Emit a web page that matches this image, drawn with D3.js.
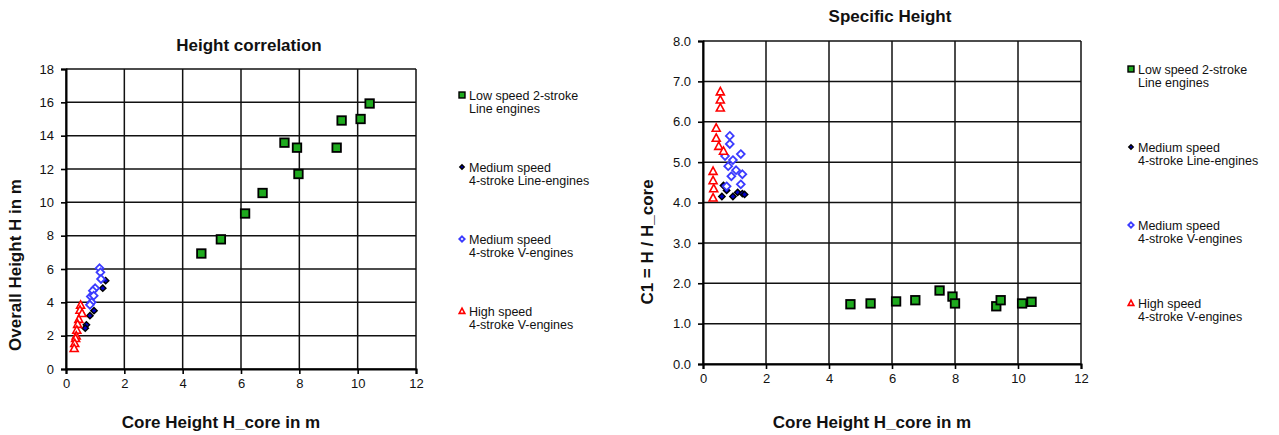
<!DOCTYPE html>
<html>
<head>
<meta charset="utf-8">
<script src="https://cdn.jsdelivr.net/npm/d3@7"></script>
<style>
  body { margin: 0; background: #fff; }
  svg { font-family: "Liberation Sans", Arial, sans-serif; }
</style>
</head>
<body>
<svg id="chart" width="1279" height="435"></svg>
<script>
// series names (legend text, two lines each)
var seriesNames = [
	["Low speed 2-stroke", "Line engines"],
	["Medium speed", "4-stroke Line-engines"],
	["Medium speed", "4-stroke V-engines"],
	["High speed", "4-stroke V-engines"]
];

// Height correlation: core height vs overall height
var lowCore   = [4.64, 5.31, 6.14, 6.74, 7.49, 7.92, 7.97, 9.28, 9.45, 10.10, 10.41];
var lowH      = [6.93, 7.78, 9.33, 10.56, 13.58, 13.28, 11.70, 13.28, 14.91, 15.00, 15.93];
var medLineCore = [1.36, 1.26, 0.96, 0.82, 0.70, 0.66];
var medLineH    = [5.30, 4.85, 3.50, 3.20, 2.65, 2.45];
var medVCore  = [1.15, 1.18, 1.20, 1.00, 0.92, 0.85, 0.95, 0.88, 0.82];
var medVH     = [6.05, 5.80, 5.40, 4.85, 4.70, 4.35, 4.40, 4.00, 3.85];
var highCore  = [0.50, 0.48, 0.55, 0.44, 0.40, 0.37, 0.35, 0.33, 0.30, 0.28];
var highH     = [3.85, 3.55, 3.35, 3.00, 2.70, 2.35, 2.00, 1.85, 1.55, 1.25];

// Specific height: core height vs C1
var lowCore2  = [4.68, 5.32, 6.13, 6.74, 7.51, 7.92, 8.00, 9.31, 9.45, 10.13, 10.43];
var lowC1     = [1.48, 1.50, 1.55, 1.58, 1.82, 1.67, 1.50, 1.43, 1.58, 1.50, 1.54];
var medLineCore2 = [0.65, 0.60, 0.75, 0.95, 1.10, 1.25, 1.32];
var medLineC1    = [4.42, 4.15, 4.30, 4.15, 4.25, 4.22, 4.20];
var medVCore2 = [0.85, 0.85, 0.70, 0.95, 1.20, 0.80, 1.05, 0.90, 1.25, 1.20, 0.75];
var medVC1    = [5.65, 5.45, 5.15, 5.05, 5.20, 4.90, 4.80, 4.65, 4.70, 4.45, 4.40];
var highCore2 = [0.55, 0.55, 0.55, 0.42, 0.42, 0.50, 0.65, 0.32, 0.32, 0.34, 0.32];
var highC1    = [6.75, 6.55, 6.35, 5.85, 5.60, 5.40, 5.28, 4.78, 4.55, 4.35, 4.12];

var xTicks = [0, 2, 4, 6, 8, 10, 12];
var yTicksLeft = [0, 2, 4, 6, 8, 10, 12, 14, 16, 18];
var yTicksRight = [0, 1, 2, 3, 4, 5, 6, 7, 8];

function zip(xs, ys){
	return xs.map((x, i) => ({x: x, y: ys[i]}));
}

var svg = d3.select('#chart');

function diamond(cx, cy, r){
	return 'M' + cx + ',' + (cy - r) + 'L' + (cx + r) + ',' + cy + 'L' + cx + ',' + (cy + r) + 'L' + (cx - r) + ',' + cy + 'Z';
}

// marker painters
function drawMarker(g, type, cx, cy, scale){
	var s = scale || 1;
	if (type === 0) {
		var a = 8.5 * s;
		g.append('rect')
			.attr('x', cx - a/2).attr('y', cy - a/2)
			.attr('width', a).attr('height', a)
			.attr('fill', '#1eaa1e').attr('stroke', '#000')
			.attr('stroke-width', 1.8 * Math.max(s, 0.8));
	} else if (type === 1) {
		g.append('path')
			.attr('d', diamond(cx, cy, 3.2 * s))
			.attr('fill', '#0000c8').attr('stroke', '#000').attr('stroke-width', 1.4);
	} else if (type === 2) {
		g.append('path')
			.attr('d', diamond(cx, cy, 3.9 * s))
			.attr('fill', '#fff').attr('stroke', '#3b3bff').attr('stroke-width', 1.8);
	} else {
		var h = 4 * s;
		g.append('path')
			.attr('d', 'M' + cx + ',' + (cy - h) + 'L' + (cx + h) + ',' + (cy + h * 0.85) + 'L' + (cx - h) + ',' + (cy + h * 0.85) + 'Z')
			.attr('fill', '#fff').attr('stroke', '#ff0000').attr('stroke-width', 1.6);
	}
}

function drawChart(opt){
	var x = d3.scaleLinear().domain([0, 12]).range([opt.left, opt.right]);
	var y = d3.scaleLinear().domain(opt.yDomain).range([opt.bottom, opt.top]);
	var g = svg.append('g');

	//Grid
	g.append('g').selectAll('line')
		.data(opt.yTicks).enter().append('line')
		.attr('x1', opt.left).attr('x2', opt.right)
		.attr('y1', d => y(d)).attr('y2', d => y(d))
		.attr('stroke', '#111').attr('stroke-width', 1.5);
	g.append('g').selectAll('line')
		.data(xTicks).enter().append('line')
		.attr('y1', opt.top).attr('y2', opt.bottom)
		.attr('x1', d => x(d)).attr('x2', d => x(d))
		.attr('stroke', '#111').attr('stroke-width', 1.5);

	//Axes
	var xAxis = d3.axisBottom(x).tickValues(xTicks).tickSize(5).tickPadding(5)
		.tickFormat(d3.format('d'));
	var yAxis = d3.axisLeft(y).tickValues(opt.yTicks).tickSize(5).tickPadding(7)
		.tickFormat(opt.yFormat);
	g.append('g').attr('transform', 'translate(0,' + opt.bottom + ')').call(xAxis);
	g.append('g').attr('transform', 'translate(' + opt.left + ',0)').call(yAxis);
	g.selectAll('.domain').attr('stroke', '#000').attr('stroke-width', 2);
	g.selectAll('.tick line').attr('stroke', '#000').attr('stroke-width', 1.6);
	g.selectAll('.tick text').attr('font-size', 13).attr('fill', '#111')
		.attr('font-family', '"Liberation Sans", Arial, sans-serif');

	//Points
	opt.series.forEach(function(pts, k){
		var sg = g.append('g');
		pts.forEach(p => drawMarker(sg, k, x(p.x), y(p.y)));
	});

	//Titles
	g.append('text')
		.attr('x', opt.titleX).attr('y', opt.titleY)
		.attr('text-anchor', 'middle').attr('font-size', 17).attr('font-weight', 'bold')
		.attr('fill', '#111')
		.text(opt.title);
	g.append('text')
		.attr('x', opt.xTitleX).attr('y', 428)
		.attr('text-anchor', 'middle').attr('font-size', 17).attr('font-weight', 'bold')
		.attr('fill', '#111')
		.text('Core Height H_core in m');
	g.append('text')
		.attr('transform', 'translate(' + opt.yTitleX + ',' + opt.yTitleY + ') rotate(-90)')
		.attr('text-anchor', 'middle').attr('font-size', 17).attr('font-weight', 'bold')
		.attr('fill', '#111')
		.text(opt.yTitle);

	//Legend
	var lg = g.append('g');
	seriesNames.forEach(function(lines, k){
		var ly = opt.legendY[k];
		drawMarker(lg, k, opt.legendX, ly - 1, 0.7);
		lines.forEach(function(t, j){
			lg.append('text')
				.attr('x', opt.legendX + 7).attr('y', ly + 4 + j * 13)
				.attr('font-size', 12.5).attr('fill', '#111')
				.text(t);
		});
	});
}

drawChart({
	left: 66, right: 416, top: 69, bottom: 369,
	yDomain: [0, 18], yTicks: yTicksLeft, yFormat: d3.format('d'),
	series: [zip(lowCore, lowH), zip(medLineCore, medLineH), zip(medVCore, medVH), zip(highCore, highH)],
	title: 'Height correlation', titleX: 249, titleY: 51,
	xTitleX: 221, yTitle: 'Overall Height H in m', yTitleX: 21, yTitleY: 265,
	legendX: 462, legendY: [96, 168, 240, 312]
});

drawChart({
	left: 703, right: 1081, top: 41, bottom: 364,
	yDomain: [0, 8], yTicks: yTicksRight, yFormat: d3.format('.1f'),
	series: [zip(lowCore2, lowC1), zip(medLineCore2, medLineC1), zip(medVCore2, medVC1), zip(highCore2, highC1)],
	title: 'Specific Height', titleX: 890, titleY: 22,
	xTitleX: 872, yTitle: 'C1 = H / H_core', yTitleX: 653, yTitleY: 242,
	legendX: 1131, legendY: [70, 148, 226, 304]
});
</script>
</body>
</html>
